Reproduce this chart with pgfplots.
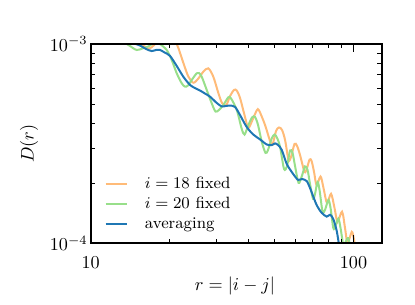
\documentclass[border=0pt]{standalone}
\usepackage{pgfplots}
\pgfplotsset{compat=1.18}
\definecolor{orangeL}{RGB}{255,187,120}
\definecolor{greenL}{RGB}{152,223,138}
\definecolor{blueD}{RGB}{31,119,180}
\begin{document}
\begin{tikzpicture}
\begin{axis}[
  at={(0,0)}, anchor=south west,
  scale only axis, width=160.05pt, height=109.6pt,
  xmode=log, ymode=log,
  xmin=10, xmax=128, ymin=1e-4, ymax=1e-3,
  axis on top,
  axis line style={line width=1.2pt},
  tick align=inside,
  xtick pos=both, ytick pos=both,
  major tick length=4.4pt, minor tick length=2.3pt,
  tick style={black, line width=0.5pt},
  xtick={10,100}, xticklabels={$10$,$100$},
  minor xtick={20,30,40,50,60,70,80,90},
  ytick={1e-4,1e-3},
  minor ytick={2e-4,3e-4,4e-4,5e-4,6e-4,7e-4,8e-4,9e-4},
  xticklabel style={yshift=-3.8pt},
  yticklabel style={xshift=1.8pt},
  xlabel={$r=|i-j|$}, ylabel={$D(r)$},
  xlabel style={at={(axis description cs:0.496,-0.214)}, anchor=center},
  ylabel style={at={(axis description cs:-0.212,0.5)}, anchor=center},
  legend style={draw=none, fill=none, at={(axis description cs:0.047,0.045)}, anchor=south west,
    font=\small, inner sep=0pt, row sep=0.6pt, column sep=8pt,
    nodes={inner sep=1.5pt, text height=6pt, text depth=1.5pt}},
  legend cell align=left,
  legend image code/.code={\draw[#1] (0pt,0pt) -- (11.5pt,0pt);},
]
\addplot[color=orangeL, line width=1.1pt, smooth] coordinates {
(14.62,1.097e-3) (15.40,1.023e-3) (15.96,9.77e-4) (16.57,9.49e-4) (17.11,9.66e-4)
(17.72,1.012e-3) (18.68,1.097e-3) (20.04,1.123e-3) (21.25,1.0e-3) (21.88,9.01e-4)
(22.66,7.85e-4) (23.53,6.87e-4) (24.58,6.39e-4) (25.68,6.71e-4) (26.83,7.26e-4)
(28.03,7.55e-4) (29.29,6.85e-4) (30.60,5.68e-4) (31.61,5.06e-4) (32.74,4.91e-4)
(33.91,5.48e-4) (35.12,5.88e-4) (35.96,5.84e-4) (37.01,5.36e-4) (38.67,4.30e-4)
(39.80,3.79e-4) (41.12,4.11e-4) (42.85,4.64e-4) (43.72,4.64e-4) (46.08,3.92e-4)
(48.14,3.26e-4) (49.21,3.13e-4) (50.74,3.66e-4) (52.09,3.81e-4) (53.48,3.70e-4)
(54.91,3.30e-4) (56.62,2.62e-4) (57.87,2.71e-4) (59.67,3.15e-4) (61.00,3.08e-4)
(62.62,2.77e-4) (65.14,2.28e-4) (66.58,2.39e-4) (68.06,2.63e-4) (69.27,2.59e-4)
(70.80,2.28e-4) (72.37,1.96e-4) (74.95,2.16e-4) (76.94,1.89e-4) (79.34,1.59e-4)
(82.17,1.77e-4) (84.73,1.50e-4) (86.99,1.28e-4) (90.49,1.44e-4) (92.90,1.19e-4)
(94.96,1.00e-4) (98.52,1.14e-4) (100.53,1.04e-4) (102.3,9.04e-5)
};
\addlegendentry{$i=18$ fixed}
\addplot[color=greenL, line width=1.1pt, smooth] coordinates {
(12.93,1.072e-3) (13.39,1.023e-3) (14.11,9.77e-4) (14.97,9.33e-4) (15.82,9.52e-4)
(16.57,9.72e-4) (17.11,1.0e-3) (17.72,1.035e-3) (18.36,1.0e-3) (19.47,9.33e-4)
(20.34,8.31e-4) (21.25,7.13e-4) (22.20,6.35e-4) (22.85,6.11e-4) (23.46,6.19e-4)
(24.24,6.60e-4) (25.32,7.13e-4) (25.84,7.15e-4) (26.46,6.85e-4) (27.64,5.88e-4)
(28.88,5.04e-4) (29.86,4.58e-4) (30.79,4.67e-4) (31.97,4.94e-4) (33.40,5.40e-4)
(34.20,5.33e-4) (35.96,4.67e-4) (37.57,3.75e-4) (38.50,3.51e-4) (39.70,3.88e-4)
(41.12,4.28e-4) (42.21,4.30e-4) (43.34,3.92e-4) (44.77,3.23e-4) (46.28,2.84e-4)
(47.30,2.94e-4) (48.86,3.36e-4) (50.08,3.51e-4) (51.19,3.38e-4) (52.55,3.05e-4)
(54.43,2.36e-4) (55.88,2.44e-4) (57.37,2.92e-4) (58.64,2.84e-4) (59.94,2.44e-4)
(61.81,2.01e-4) (63.45,2.15e-4) (65.43,2.43e-4) (66.88,2.33e-4) (68.36,1.98e-4)
(70.18,1.67e-4) (71.42,1.77e-4) (73.00,2.03e-4) (74.29,1.85e-4) (76.28,1.44e-4)
(77.96,1.47e-4) (80.25,1.65e-4) (81.82,1.50e-4) (83.84,1.19e-4) (85.48,1.22e-4)
(87.60,1.33e-4) (89.31,1.19e-4) (91.53,9.80e-5) (93.31,1.015e-4) (95.62,1.06e-4)
(97.92,9.04e-5)
};
\addlegendentry{$i=20$ fixed}
\addplot[color=blueD, line width=1.1pt, smooth] coordinates {
(13.87,1.047e-3) (14.49,1.012e-3) (15.40,9.83e-4) (16.24,9.44e-4) (17.07,9.22e-4)
(17.72,9.33e-4) (18.36,9.33e-4) (19.18,9.04e-4) (20.04,8.71e-4) (21.25,7.76e-4)
(22.52,6.85e-4) (23.88,6.23e-4) (24.95,6.01e-4) (26.07,5.84e-4) (27.23,5.64e-4)
(28.45,5.44e-4) (30.17,5.06e-4) (31.53,4.86e-4) (32.74,4.89e-4) (33.91,4.91e-4)
(35.42,4.83e-4) (37.01,4.40e-4) (39.25,3.83e-4) (41.59,3.51e-4) (44.10,3.32e-4)
(46.77,3.13e-4) (48.86,3.11e-4) (50.30,3.17e-4) (51.64,3.11e-4) (53.34,2.94e-4)
(55.73,2.50e-4) (58.90,2.23e-4) (61.53,2.08e-4) (63.73,2.10e-4) (66.41,2.05e-4)
(68.36,1.89e-4) (70.37,1.71e-4) (72.68,1.54e-4) (75.74,1.42e-4) (79.13,1.36e-4)
(81.46,1.39e-4) (83.84,1.32e-4) (86.38,1.15e-4) (88.14,9.80e-5) (89.70,8.74e-5)
};
\addlegendentry{averaging}
\end{axis}
\pgfresetboundingbox
\path (-49.9pt,-33.9pt) rectangle (178.4pt,133.8pt);
\end{tikzpicture}
\end{document}
